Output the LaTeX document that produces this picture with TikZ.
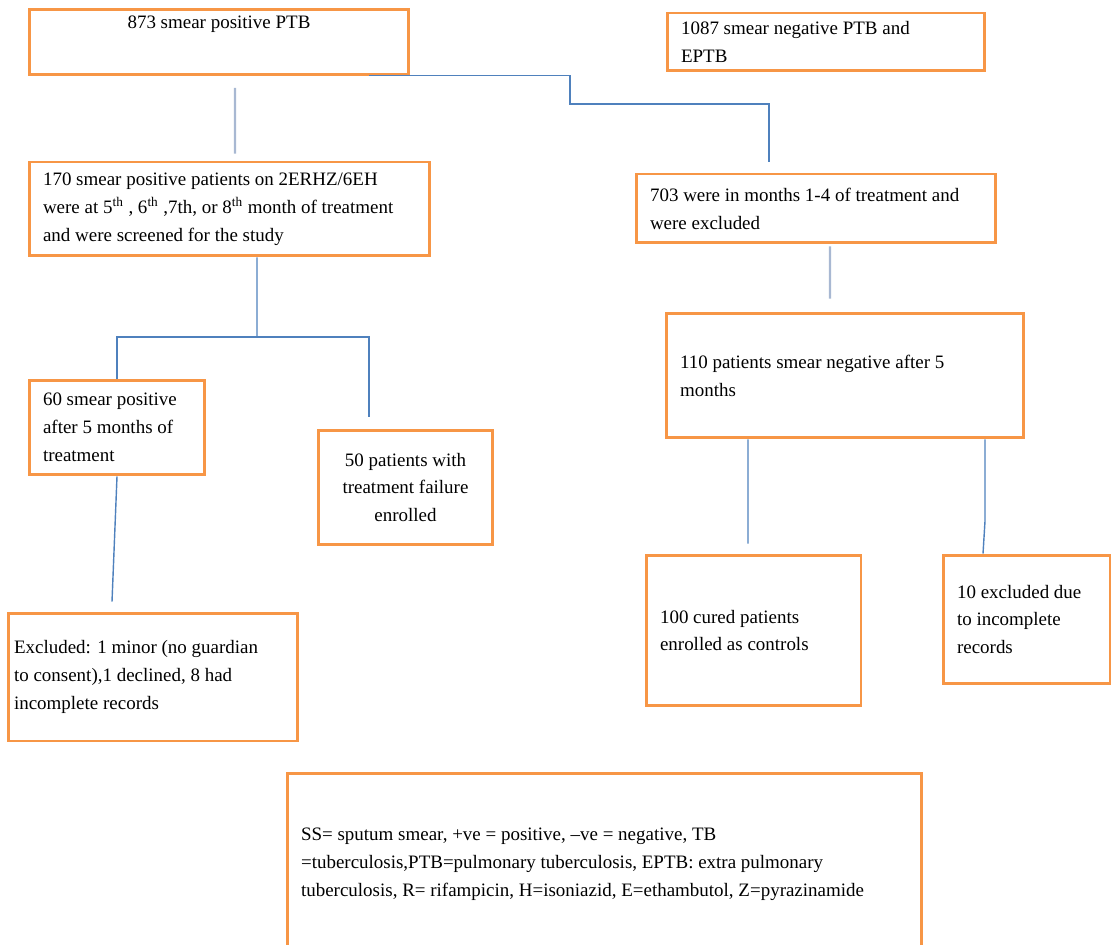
\documentclass[tikz,border=0pt]{standalone}
\usepackage{fontspec}
\setmainfont{Liberation Serif}
\definecolor{boxorange}{RGB}{247,150,70}
\definecolor{linkblue}{RGB}{79,129,189}
\definecolor{faintblue}{RGB}{168,184,210}
\begin{document}
\begin{tikzpicture}[x=0.02cm,y=-0.02cm,
  box/.style={draw=boxorange,line width=1.7pt,inner xsep=0.28cm,align=flush left,font=\fontsize{10.8}{15.9}\selectfont},
  link/.style={draw=linkblue,line width=0.8pt},
  faint/.style={draw=faintblue,line width=1.4pt}]
 \useasboundingbox (0,0) rectangle (1111,945);
 \clip (0,0) rectangle (1111,945);
 \node[box,text width=7.04cm,minimum height=1.16cm,align=flush center] (pos) at (219,42) {873 smear positive PTB\\[7pt]\mbox{}};
 \node[box,text width=5.8cm,minimum height=1.16cm] (neg) at (826,42) {1087 smear negative PTB and\\EPTB};
 \node[box,text width=7.46cm,minimum height=1.88cm] (screen) at (229.5,209) {170 smear positive patients on 2ERHZ/6EH\\were at 5\textsuperscript{th} , 6\textsuperscript{th} ,7th, or 8\textsuperscript{th} month of treatment\\and were screened for the study};
 \node[box,text width=6.64cm,minimum height=1.38cm] (early) at (816,208.5) {703 were in months 1-4 of treatment and\\were excluded};
 \node[box,text width=6.6cm,minimum height=2.5cm] (snegative) at (845,375.5) {110 patients smear negative after 5\\months};
 \node[box,text width=2.96cm,minimum height=1.9cm] (spositive) at (117,427.5) {60 smear positive\\after 5 months of\\treatment};
 \node[box,text width=2.94cm,minimum height=2.3cm,align=flush center] (failure) at (405.5,487.5) {50 patients with\\treatment failure\\enrolled};
 \node[box,inner xsep=0.12cm,text width=5.56cm,minimum height=2.56cm] (exclA) at (153,677) {Excluded: 1 minor (no guardian\\to consent),1 declined, 8 had\\incomplete records};
 \node[box,text width=3.74cm,minimum height=3.02cm] (cured) at (753.5,630.5) {100 cured patients\\enrolled as controls};
 \node[box,text width=2.78cm,minimum height=2.58cm] (exclB) at (1026.5,619.5) {10 excluded due\\to incomplete\\records};
 \node[box,text width=12.14cm,minimum height=3.64cm] (legend) at (604.5,864) {SS= sputum smear, +ve = positive, --ve = negative, TB\\=tuberculosis,PTB=pulmonary tuberculosis, EPTB: extra pulmonary\\tuberculosis, R= rifampicin, H=isoniazid, E=ethambutol, Z=pyrazinamide};
 \coordinate (split) at (570,104);
 \coordinate (fork) at (257,337);
 \draw[link] ([xshift=-0.82cm]pos.south east) -| (split) -| ([xshift=-0.94cm,yshift=0.22cm]early.north);
 \draw[faint] ([xshift=0.32cm,yshift=-0.24cm]pos.south) -- ([xshift=0.11cm,yshift=0.14cm]screen.north);
 \draw[link] ([xshift=0.55cm]screen.south) -- (fork);
 \draw[link] (spositive.north) |- (fork) -| ([xshift=-0.73cm,yshift=0.24cm]failure.north);
 \draw[link] (spositive.south) -- ([xshift=-0.82cm,yshift=0.2cm]exclA.north);
 \draw[faint] ([xshift=0.28cm,yshift=-0.04cm]early.south) -- ([xshift=-0.3cm,yshift=0.26cm]snegative.north);
 \draw[link] ([xshift=-1.94cm]snegative.south) -- ([xshift=-0.11cm,yshift=0.2cm]cured.north);
 \draw[link] ([xshift=2.8cm]snegative.south) -- ++(0,-1.64cm) -- ([xshift=-0.87cm]exclB.north);
\end{tikzpicture}
\end{document}
